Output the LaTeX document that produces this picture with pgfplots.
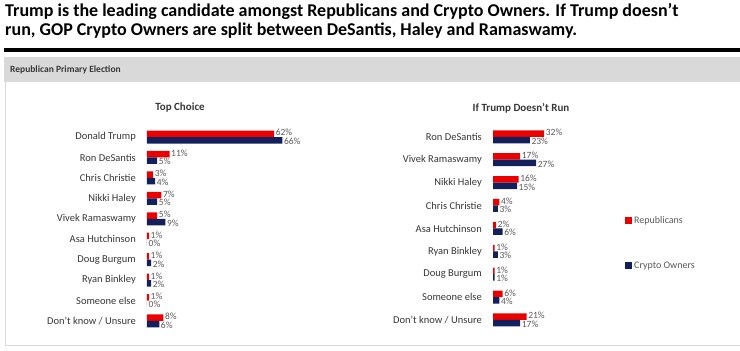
\documentclass[border=0pt]{standalone}
\usepackage{pgfplots}
\pgfplotsset{compat=1.18}
\usepackage{fontspec}
\setmainfont{Carlito}
\definecolor{rep}{RGB}{235,0,0}
\definecolor{cry}{RGB}{18,33,92}
\definecolor{lbl}{RGB}{89,89,89}
\definecolor{cat}{RGB}{55,55,55}
\definecolor{band}{RGB}{217,217,217}
\pgfplotsset{
  pollbar/.style={
    scale only axis, clip=false,
    xbar, bar width=6.5pt,
    xmin=0, xmax=100,
    axis line style={draw=none},
    major tick length=0pt, xtick=\empty,
    /pgf/number format/assume math mode=true,
    yticklabel style={font=\fontsize{10.5}{12}\selectfont, text=cat, inner sep=0pt, xshift=-11pt},
    nodes near coords={\pgfmathprintnumber{\pgfplotspointmeta}\%},
    every node near coord/.append style={font=\fontsize{9.5}{10}\selectfont, text=lbl, inner sep=1.5pt},
  },
  repstyle/.style={fill=rep, draw=none, bar shift=3.25pt, every node near coord/.append style={yshift=1pt}},
  crystyle/.style={fill=cry, draw=none, bar shift=-3.25pt, every node near coord/.append style={yshift=-1pt}},
}
\begin{document}
\begin{tikzpicture}[x=1pt,y=1pt]
\useasboundingbox (0,0) rectangle (740,351);
% heading
\node[anchor=base west, inner sep=0pt, font=\fontsize{18}{20}\selectfont\bfseries] at (5,334) {Trump is the leading candidate amongst Republicans and Crypto Owners. If Trump doesn’t};
\node[anchor=base west, inner sep=0pt, font=\fontsize{18}{20}\selectfont\bfseries] at (5,315) {run, GOP Crypto Owners are split between DeSantis, Haley and Ramaswamy.};
\fill[black] (4,299) rectangle (740,303);
\fill[band] (4,269) rectangle (740,294);
\node[anchor=west, inner sep=0pt, font=\fontsize{9.5}{11}\selectfont\bfseries, text=cat] at (10,281) {Republican Primary Election};
\draw[band, line width=1pt] (5,269) -- (5,5) -- (740,5);
\node[font=\fontsize{11}{12}\selectfont\bfseries, text=cat] at (180,243) {Top Choice};
\node[font=\fontsize{11}{12}\selectfont\bfseries, text=cat] at (521,243) {If Trump Doesn’t Run};

% left chart
\begin{axis}[pollbar,
  at={(147pt,19.8pt)}, anchor=south west,
  x=2.05pt, y=20.44pt, ymin=-0.5, ymax=9.5,
  ytick={0,...,9},
  yticklabels={Don't know / Unsure, Someone else, Ryan Binkley, Doug Burgum, Asa Hutchinson, Vivek Ramaswamy, Nikki Haley, Chris Christie, Ron DeSantis, Donald Trump},
]
\addplot[repstyle] coordinates {(62,9) (11,8) (3,7) (7,6) (5,5) (1,4) (1,3) (1,2) (1,1) (8,0)};
\addplot[crystyle] coordinates {(66,9) (5,8) (4,7) (5,6) (9,5) (0,4) (2,3) (2,2) (0,1) (6,0)};
\end{axis}

% right chart
\begin{axis}[pollbar,
  at={(493pt,19.55pt)}, anchor=south west,
  x=1.6pt, y=22.9pt, ymin=-0.5, ymax=8.5,
  ytick={0,...,8},
  yticklabels={Don't know / Unsure, Someone else, Doug Burgum, Ryan Binkley, Asa Hutchinson, Chris Christie, Nikki Haley, Vivek Ramaswamy, Ron DeSantis},
  legend style={at={(0.825,0.57)}, anchor=north west, draw=none, fill=none, font=\fontsize{10}{12}\selectfont, text=lbl, row sep=33pt, cells={anchor=west}, inner sep=0pt},
  legend image code/.code={\fill[#1] (0pt,-3.5pt) rectangle (7pt,3.5pt);},
]
\addplot[repstyle] coordinates {(32,8) (17,7) (16,6) (4,5) (2,4) (1,3) (1,2) (6,1) (21,0)};
\addplot[crystyle] coordinates {(23,8) (27,7) (15,6) (3,5) (6,4) (3,3) (1,2) (4,1) (17,0)};
\legend{Republicans, Crypto Owners}
\end{axis}
\end{tikzpicture}
\end{document}
